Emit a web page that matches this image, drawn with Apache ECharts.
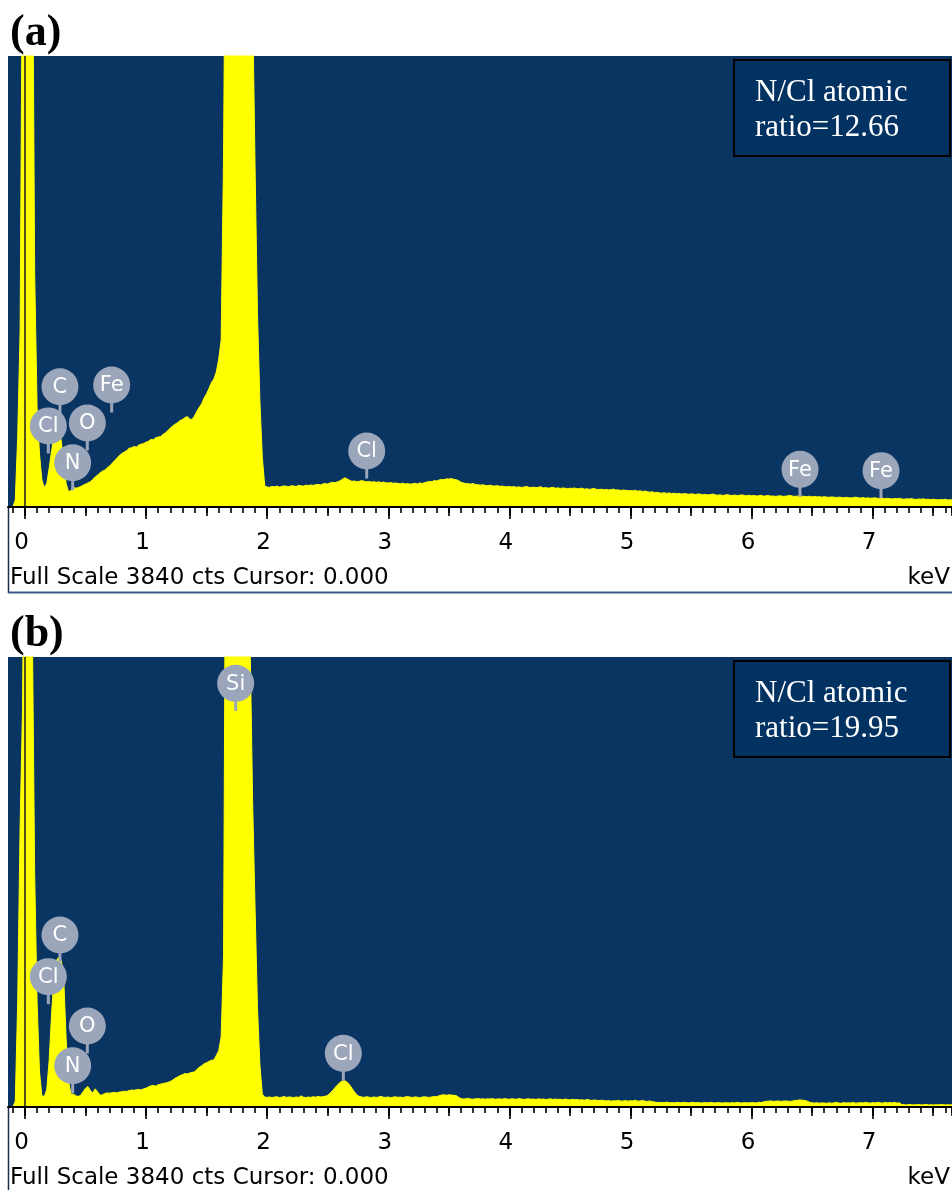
<!DOCTYPE html>
<html>
<head>
<meta charset="utf-8">
<script src="https://cdn.jsdelivr.net/npm/echarts@6/dist/echarts.min.js"></script>
<style>
  html, body { margin: 0; padding: 0; background: #ffffff; }
  #chart { width: 952px; height: 1190px; }
</style>
</head>
<body>
<div id="chart"></div>
<script>
// EDS spectra: counts per 0.02 keV channel, first channel at -0.14 keV
const CHANNEL_START = -0.14;
const CHANNEL_STEP = 0.02;
const KEV_MIN = -0.14;
const KEV_MAX = 7.655;
const FULL_SCALE = 3840;

const countsA = [
  0, 0, 0, 60, 600, 1500, 5000,
  9000, 9000, 8000, 5500, 2000, 850, 450, 230, 165, 200,
  330, 480, 600, 660, 670, 560, 380, 200, 130, 140,
  170, 160, 165, 175, 185, 195, 205, 215, 235, 255,
  272, 290, 305, 315, 335, 350, 372, 395, 415, 440,
  455, 468, 480, 500, 505, 515, 510, 528, 535, 540,
  552, 560, 575, 572, 590, 595, 600, 618, 632, 650,
  672, 690, 705, 718, 735, 745, 760, 770, 750, 745,
  775, 815, 850, 880, 930, 965, 1010, 1060, 1090, 1150,
  1260, 1420, 3000, 6000, 6000, 6000, 6000, 6000, 6000, 6000,
  6000, 6000, 6000, 6000, 4300, 2900, 1650, 900, 420, 180,
  170, 168, 175, 172, 178, 170, 174, 180, 176, 172,
  182, 178, 175, 185, 180, 178, 186, 182, 188, 184,
  190, 192, 188, 196, 200, 195, 205, 210, 206, 215,
  222, 235, 248, 240, 228, 218, 222, 215, 218, 225,
  220, 214, 218, 212, 216, 210, 214, 208, 212, 206,
  204, 208, 202, 205, 200, 198, 203, 196, 200, 194,
  198, 202, 196, 205, 200, 208, 212, 218, 215, 225,
  222, 230, 235, 232, 240, 238, 242, 236, 232, 225,
  210, 205, 200, 198, 195, 200, 192, 190, 186, 190,
  184, 182, 186, 180, 178, 182, 176, 178, 174, 172,
  175, 170, 174, 168, 172, 166, 170, 175, 168, 165,
  170, 164, 168, 172, 162, 166, 160, 164, 168, 160,
  163, 158, 162, 160, 156, 160, 158, 162, 155, 158,
  160, 152, 156, 150, 154, 158, 150, 148, 152, 146,
  150, 145, 148, 152, 144, 146, 140, 145, 142, 138,
  140, 138, 142, 135, 138, 132, 136, 130, 126, 130,
  122, 125, 120, 118, 122, 116, 120, 114, 118, 112,
  116, 110, 114, 112, 108, 112, 110, 106, 112, 108,
  104, 108, 102, 106, 110, 104, 100, 104, 98, 102,
  106, 100, 98, 102, 96, 100, 104, 98, 96, 100,
  95, 98, 94, 96, 100, 92, 95, 98, 92, 94,
  90, 94, 96, 90, 92, 95, 98, 92, 90, 94,
  88, 92, 90, 88, 92, 86, 90, 86, 88, 84,
  88, 85, 82, 86, 84, 80, 84, 82, 78, 82,
  80, 76, 80, 84, 78, 76, 80, 75, 78, 74,
  76, 78, 74, 72, 76, 70, 74, 72, 68, 72,
  70, 74, 68, 66, 70, 68, 72, 66, 64, 68,
  66, 70, 64, 66, 62, 66, 64, 60, 64, 62,
  66, 60, 62, 60
];

const countsB = [
  0, 0, 0, 50, 900, 2400, 3400,
  6000, 7000, 6000, 4200, 2000, 900, 300, 95, 90, 150,
  400, 800, 1100, 1250, 1280, 1250, 1100, 580, 220, 110,
  110, 95, 90, 100, 130, 160, 175, 140, 120, 155,
  130, 100, 105, 115, 120, 118, 122, 125, 120, 128,
  130, 135, 132, 140, 145, 142, 148, 150, 146, 155,
  160, 172, 180, 185, 178, 190, 195, 200, 205, 210,
  218, 230, 245, 255, 268, 275, 285, 282, 290, 295,
  300, 320, 340, 352, 370, 378, 390, 398, 402, 440,
  480, 600, 1300, 6000, 6000, 6000, 6000, 6000, 6000, 6000,
  6000, 6000, 6000, 3900, 2600, 1700, 850, 360, 110, 85,
  82, 86, 80, 85, 88, 80, 84, 90, 82, 86,
  84, 80, 86, 82, 95, 84, 80, 86, 82, 88,
  84, 90, 86, 88, 92, 100, 118, 140, 165, 188,
  208, 222, 225, 212, 190, 160, 130, 105, 90, 86,
  82, 88, 84, 80, 86, 82, 85, 90, 84, 82,
  86, 80, 84, 88, 82, 85, 80, 86, 90, 84,
  82, 86, 84, 80, 85, 88, 84, 82, 86, 90,
  88, 96, 102, 104, 100, 105, 102, 100, 98, 84,
  72, 68, 70, 74, 68, 66, 70, 72, 68, 70,
  66, 70, 68, 72, 66, 68, 70, 66, 72, 68,
  66, 70, 68, 66, 72, 68, 64, 68, 70, 66,
  68, 64, 70, 66, 68, 64, 66, 70, 64, 68,
  64, 66, 62, 68, 64, 60, 66, 62, 64, 60,
  62, 58, 64, 60, 56, 60, 58, 54, 58, 55,
  52, 56, 50, 54, 52, 58, 50, 52, 55, 50,
  54, 52, 58, 50, 52, 56, 50, 48, 52, 46,
  42, 38, 40, 36, 38, 42, 36, 38, 35, 40,
  38, 36, 40, 38, 35, 38, 40, 36, 38, 34,
  36, 38, 34, 40, 36, 35, 38, 36, 34, 37,
  36, 34, 38, 35, 40, 36, 34, 38, 36, 35,
  38, 36, 35, 40, 38, 44, 48, 50, 52, 48,
  50, 52, 48, 50, 52, 50, 48, 52, 55, 58,
  60, 58, 56, 50, 40, 36, 34, 36, 33, 35,
  34, 32, 36, 33, 35, 40, 34, 32, 38, 34,
  36, 34, 40, 33, 35, 38, 34, 40, 36, 33,
  38, 34, 40, 36, 33, 40, 35, 38, 34, 40,
  34, 36, 22, 20, 18, 22, 20, 18, 20, 22,
  18, 20, 22, 18, 20, 17, 20, 18, 22, 20,
  18, 20, 18, 20
];

// Element markers: [symbol, keV, counts at marker centre]
const peakLabelsA = [
  ['Cl', 0.193, 690], ['C', 0.289, 1024], ['O', 0.515, 715], ['N', 0.394, 377],
  ['Fe', 0.716, 1039], ['Cl', 2.822, 477], ['Fe', 6.40, 321], ['Fe', 7.069, 309]
];
const peakLabelsB = [
  ['C', 0.289, 1468], ['Cl', 0.193, 1112], ['O', 0.515, 691], ['N', 0.394, 352],
  ['Si', 1.740, 3615], ['Cl', 2.629, 458]
];

const panelTags = ['(a)', '(b)'];
const nclRatios = ['12.66', '19.95'];
const footerText = 'Full Scale 3840 cts Cursor: 0.000';
const unitText = 'keV';

// ---- layout & styling ----
const NAVY = '#0a3563';
const BOX_FILL = '#023262';
const YELLOW = '#ffff00';
const BUBBLE = '#9ba6ba';
const PLOT_LEFT = 8;
const PLOT_RIGHT = 952;
const pxPerKeV = (PLOT_RIGHT - PLOT_LEFT) / (KEV_MAX - KEV_MIN);
const leftAt = kev => PLOT_LEFT + (kev - KEV_MIN) * pxPerKeV;

const panels = [
  { top: 56, height: 451, counts: countsA, labels: peakLabelsA },
  { top: 657, height: 450, counts: countsB, labels: peakLabelsB }
];

const toSeries = counts => counts.map((c, i) =>
  [+(CHANNEL_START + i * CHANNEL_STEP).toFixed(3), c]);

const grid = [], xAxis = [], yAxis = [], series = [], graphic = [];

panels.forEach((p, k) => {
  const bottom = p.top + p.height;
  const g0 = grid.length;
  // plot area
  grid.push({ left: PLOT_LEFT, right: 0, top: p.top, height: p.height,
              show: true, backgroundColor: NAVY, borderWidth: 0 });
  // tick rulers: 0.1 keV, 0.5 keV, 1 keV
  grid.push({ left: leftAt(-0.1), right: 0, top: p.top, height: p.height });
  grid.push({ left: leftAt(0), right: 0, top: p.top, height: p.height });
  grid.push({ left: leftAt(0), right: 0, top: p.top, height: p.height });

  xAxis.push({
    gridIndex: g0, type: 'value', min: KEV_MIN, max: KEV_MAX, z: 5,
    axisLine: { show: true, onZero: false, lineStyle: { color: '#000', width: 2 } },
    axisTick: { show: false }, axisLabel: { show: false }, splitLine: { show: false }
  });
  const ruler = (gi, min, interval, len, labels) => ({
    gridIndex: gi, type: 'value', min: min, max: KEV_MAX, interval: interval,
    axisLine: { show: false },
    axisTick: { show: true, length: len, lineStyle: { color: '#000', width: 1.6 } },
    axisLabel: labels ? {
      show: true, margin: 25, color: '#000', fontSize: 23, lineHeight: 23,
      fontFamily: 'DejaVu Sans', padding: [0, 7, 0, 0],
      showMinLabel: true, showMaxLabel: false,
      formatter: v => Math.abs(v - Math.round(v)) < 1e-6 ? String(Math.round(v)) : ''
    } : { show: false },
    splitLine: { show: false }
  });
  xAxis.push(ruler(g0 + 1, -0.1, 0.1, 6, false));
  xAxis.push(ruler(g0 + 2, 0, 0.5, 9, false));
  xAxis.push(ruler(g0 + 3, 0, 1, 12, true));
  for (let j = 0; j < 4; j++) {
    yAxis.push({ gridIndex: g0 + j, type: 'value', min: 0, max: FULL_SCALE, show: false });
  }

  series.push({
    type: 'line', xAxisIndex: g0, yAxisIndex: g0,
    data: toSeries(p.counts), showSymbol: false, symbol: 'none',
    lineStyle: { color: YELLOW, width: 1 },
    areaStyle: { color: YELLOW, opacity: 1 },
    clip: true, z: 2, silent: true,
    markLine: {
      silent: true, symbol: 'none', animation: false,
      label: { show: false },
      lineStyle: { color: '#1a1a1a', width: 1.5, type: 'solid' },
      data: [{ xAxis: 0 }]
    }
  });

  const labels = p.labels;
  series.push({
    type: 'custom', xAxisIndex: g0, yAxisIndex: g0, z: 4, clip: false, silent: true,
    data: labels.map(l => [l[1], l[2]]),
    encode: { x: 0, y: 1 },
    renderItem: (params, api) => {
      const c = api.coord([api.value(0), api.value(1)]);
      const r = 18.5;
      return {
        type: 'group',
        children: [
          { type: 'line', shape: { x1: c[0], y1: c[1] + r - 3, x2: c[0], y2: c[1] + r + 9 },
            style: { stroke: BUBBLE, lineWidth: 3 } },
          { type: 'circle', shape: { cx: c[0], cy: c[1], r: r },
            style: { fill: BUBBLE } },
          { type: 'text', x: c[0], y: c[1] + 1,
            style: { text: labels[params.dataIndex][0], align: 'center', verticalAlign: 'middle',
                     fill: '#ffffff', font: '21px "DejaVu Sans"' } }
        ]
      };
    }
  });

  // panel tag
  graphic.push({ type: 'text', x: 10, y: p.top - 22,
    style: { text: panelTags[k], font: 'bold 44px "Liberation Serif"', fill: '#000',
             verticalAlign: 'middle' } });
  // N/Cl ratio box
  graphic.push({ type: 'rect', shape: { x: 734, y: p.top + 4, width: 216, height: 96 },
    style: { fill: BOX_FILL, stroke: '#000', lineWidth: 2 }, z: 10 });
  graphic.push({ type: 'text', x: 755, y: p.top + 37, z: 11,
    style: { text: 'N/Cl atomic', font: '31px "Liberation Serif"', fill: '#fff', verticalAlign: 'middle' } });
  graphic.push({ type: 'text', x: 755, y: p.top + 72, z: 11,
    style: { text: 'ratio=' + nclRatios[k], font: '31px "Liberation Serif"', fill: '#fff', verticalAlign: 'middle' } });
  // status line under the ruler
  graphic.push({ type: 'text', x: 10, y: bottom + 71,
    style: { text: footerText, font: '23px "DejaVu Sans"', fill: '#000', verticalAlign: 'middle' } });
  graphic.push({ type: 'text', x: 950, y: bottom + 71,
    style: { text: unitText, font: '23px "DejaVu Sans"', fill: '#000', align: 'right', verticalAlign: 'middle' } });
  // frame of the status area
  graphic.push({ type: 'line', shape: { x1: 8.5, y1: bottom, x2: 8.5, y2: bottom + 86 },
    style: { stroke: '#1d2f4f', lineWidth: 1.5 } });
  if (k === 0) {
    graphic.push({ type: 'line', shape: { x1: 8, y1: bottom + 85.5, x2: 952, y2: bottom + 85.5 },
      style: { stroke: '#3a5d88', lineWidth: 2 } });
  }
});

const chart = echarts.init(document.getElementById('chart'), null, { renderer: 'canvas' });
chart.setOption({
  animation: false,
  backgroundColor: '#ffffff',
  grid, xAxis, yAxis, series, graphic
});
</script>
</body>
</html>
